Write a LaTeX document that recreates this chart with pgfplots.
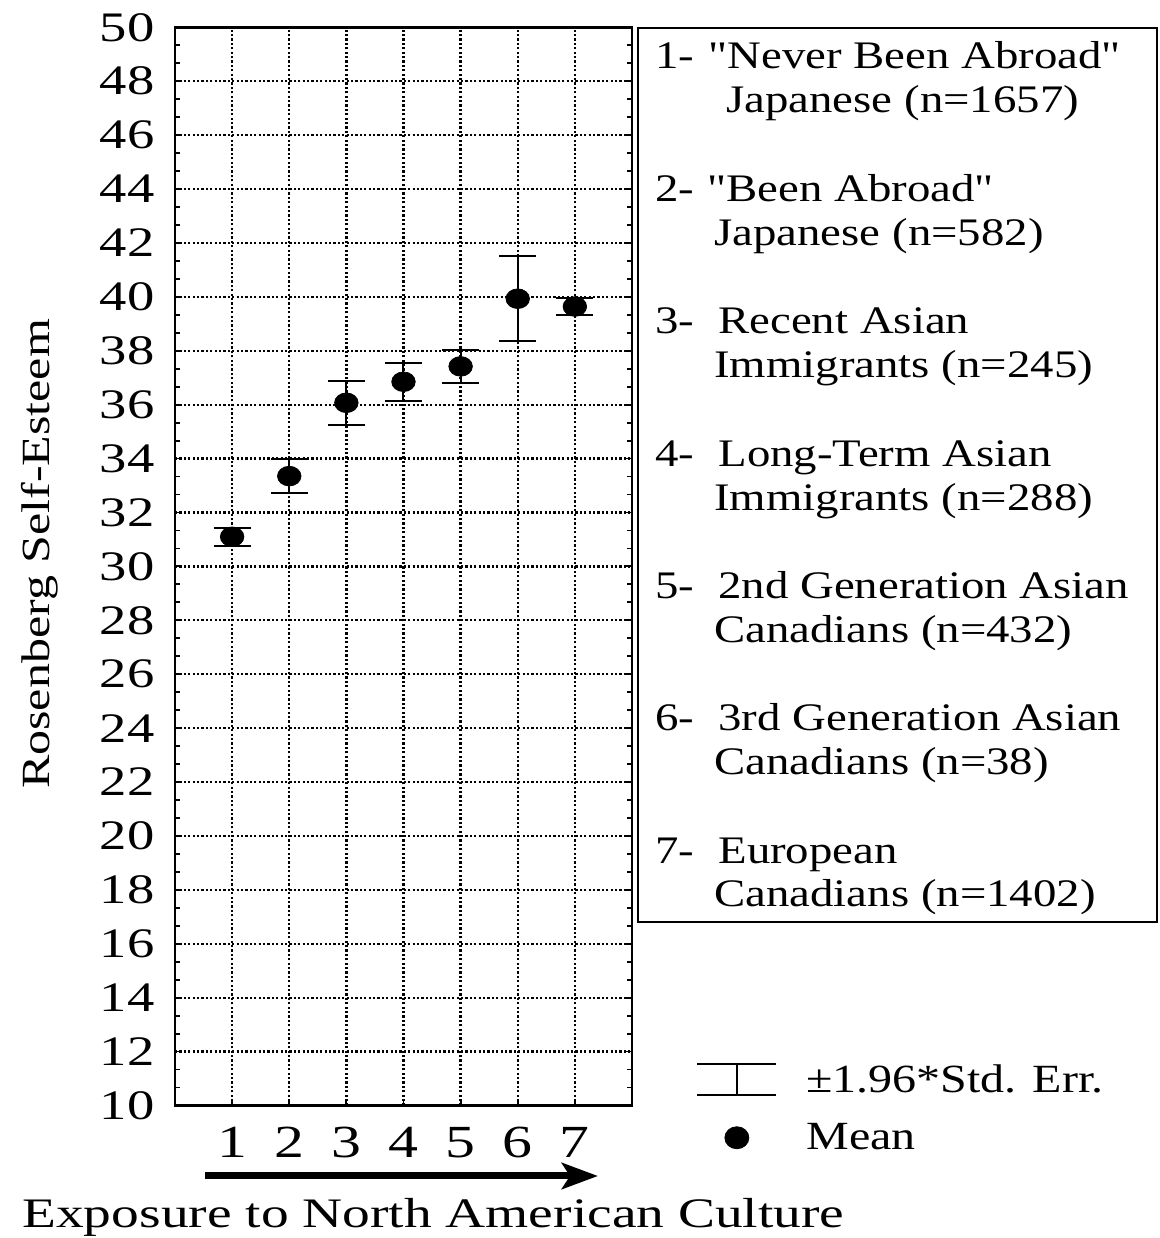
\documentclass[border=0pt]{standalone}
\usepackage{fontspec}
\setmainfont{Liberation Serif}
\newfontfamily\legfont{Liberation Serif}[FakeStretch=1.2]
\newfontfamily\tickfont{Liberation Serif}[FakeStretch=1.3]
\newfontfamily\xlabfont{Liberation Serif}[FakeStretch=1.32]
\newfontfamily\ylabfont{Liberation Serif}[FakeStretch=1.25]
\usepackage{pgfplots}
\usepackage{pgfplotstable}
\pgfplotsset{compat=1.18}
\usetikzlibrary{arrows.meta}

\pgfplotstableread{
x y ep em
1 31.10 0.33 0.33
2 33.35 0.62 0.62
3 36.07 0.82 0.82
4 36.85 0.70 0.70
5 37.42 0.62 0.62
6 39.93 1.57 1.57
7 39.64 0.33 0.33
}\datatable

\newcommand{\LF}{\legfont\fontsize{19.5pt}{19.5pt}\selectfont}

\begin{document}
\begin{tikzpicture}
\path[use as bounding box] (0,0) rectangle (580pt,619pt);
\begin{axis}[
  at={(87.5pt,66.25pt)}, anchor=south west,
  scale only axis, width=228.5pt, height=539.1pt,
  xmin=0, xmax=8, ymin=10, ymax=50,
  xtick={1,...,7}, ytick={10,12,...,50}, minor y tick num=2,
  tick align=inside, xtick pos=bottom, ytick pos=both,
  major tick length=3pt, minor tick length=2.5pt,
  every tick/.style={line width=0.9pt, black},
  grid=major,
  major grid style={line width=1.15pt, dash pattern=on 1.1pt off 1.1pt, black},
  axis line style={line width=1.25pt},
  /pgf/number format/assume math mode=true,
  yticklabel style={font=\tickfont\fontsize{21pt}{21pt}\selectfont, inner sep=0pt, xshift=-10pt},
  xticklabel style={font=\tickfont\fontsize{23pt}{23pt}\selectfont, inner sep=0pt, yshift=-10.75pt},
  ylabel={Rosenberg Self-Esteem},
  ylabel style={font=\ylabfont\fontsize{20pt}{20pt}\selectfont, at={(axis description cs:-0.2954,0.5115)}, anchor=center},
  xlabel={Exposure to North American Culture},
  xlabel style={font=\xlabfont\fontsize{21pt}{21pt}\selectfont, at={(axis description cs:-0.3348,-0.1127)}, anchor=base west, inner sep=0pt},
  clip=false,
  legend style={at={(axis description cs:1.14,0.0422)}, anchor=north west, draw=none, fill=none, inner sep=0pt,
    font=\legfont\fontsize{20pt}{20pt}\selectfont, cells={anchor=west}, column sep=12.5pt, row sep=10pt},
]
\addplot[black, only marks, mark=*, mark size=4.9pt, mark options={xscale=1.2}, forget plot,
  error bars/.cd, y dir=both, y explicit,
  error bar style={line width=1pt},
  error mark options={rotate=90, line width=1pt, mark size=9.25pt}]
  table[x=x, y=y, y error plus=ep, y error minus=em] {\datatable};
\addlegendimage{legend image code/.code={\draw[line width=1pt] (0pt,-7.75pt)--(39.5pt,-7.75pt) (0pt,7.75pt)--(39.5pt,7.75pt) (19.75pt,-7.75pt)--(19.75pt,7.75pt);}}
\addlegendentry{±1.96*Std. Err.}
\addlegendimage{legend image code/.code={\fill[black] (19.75pt,0pt) ellipse (6pt and 5.5pt);}}
\addlegendentry{Mean}
\end{axis}
% arrow under x axis
\draw[line width=3.5pt, -{Stealth[length=18pt, width=13pt, inset=4pt]}] (102.5pt,31pt) -- (299pt,31pt);
% group legend box
\draw[line width=0.75pt] (319pt,158pt) rectangle (578.5pt,605pt);
\begin{scope}[every node/.style={anchor=base west, inner sep=0pt, font=\LF}]
\node at (327.5pt,584.5pt) {1-};
\node at (354pt,584.5pt) {"Never Been\ Abroad"};
\node at (363pt,562.5pt) {Japanese (n=1657)};
\node at (327.5pt,518pt) {2-};
\node at (353.5pt,518pt) {"Been\ Abroad"};
\node at (357pt,496pt) {Japanese (n=582)};
\node at (327.5pt,452pt) {3-};
\node at (359pt,452pt) {Recent Asian};
\node at (357pt,430pt) {Immigrants (n=245)};
\node at (327.5pt,385.5pt) {4-};
\node at (359pt,385.5pt) {Long-Term Asian};
\node at (357pt,363.5pt) {Immigrants (n=288)};
\node at (327.5pt,319.5pt) {5-};
\node at (359pt,319.5pt) {2nd Generation Asian};
\node at (357pt,297.5pt) {Canadians (n=432)};
\node at (327.5pt,253.5pt) {6-};
\node at (359pt,253.5pt) {3rd Generation Asian};
\node at (357pt,231.5pt) {Canadians (n=38)};
\node at (327.5pt,187pt) {7-};
\node at (359pt,187pt) {European};
\node at (357pt,165.5pt) {Canadians (n=1402)};
\end{scope}
\end{tikzpicture}
\end{document}
